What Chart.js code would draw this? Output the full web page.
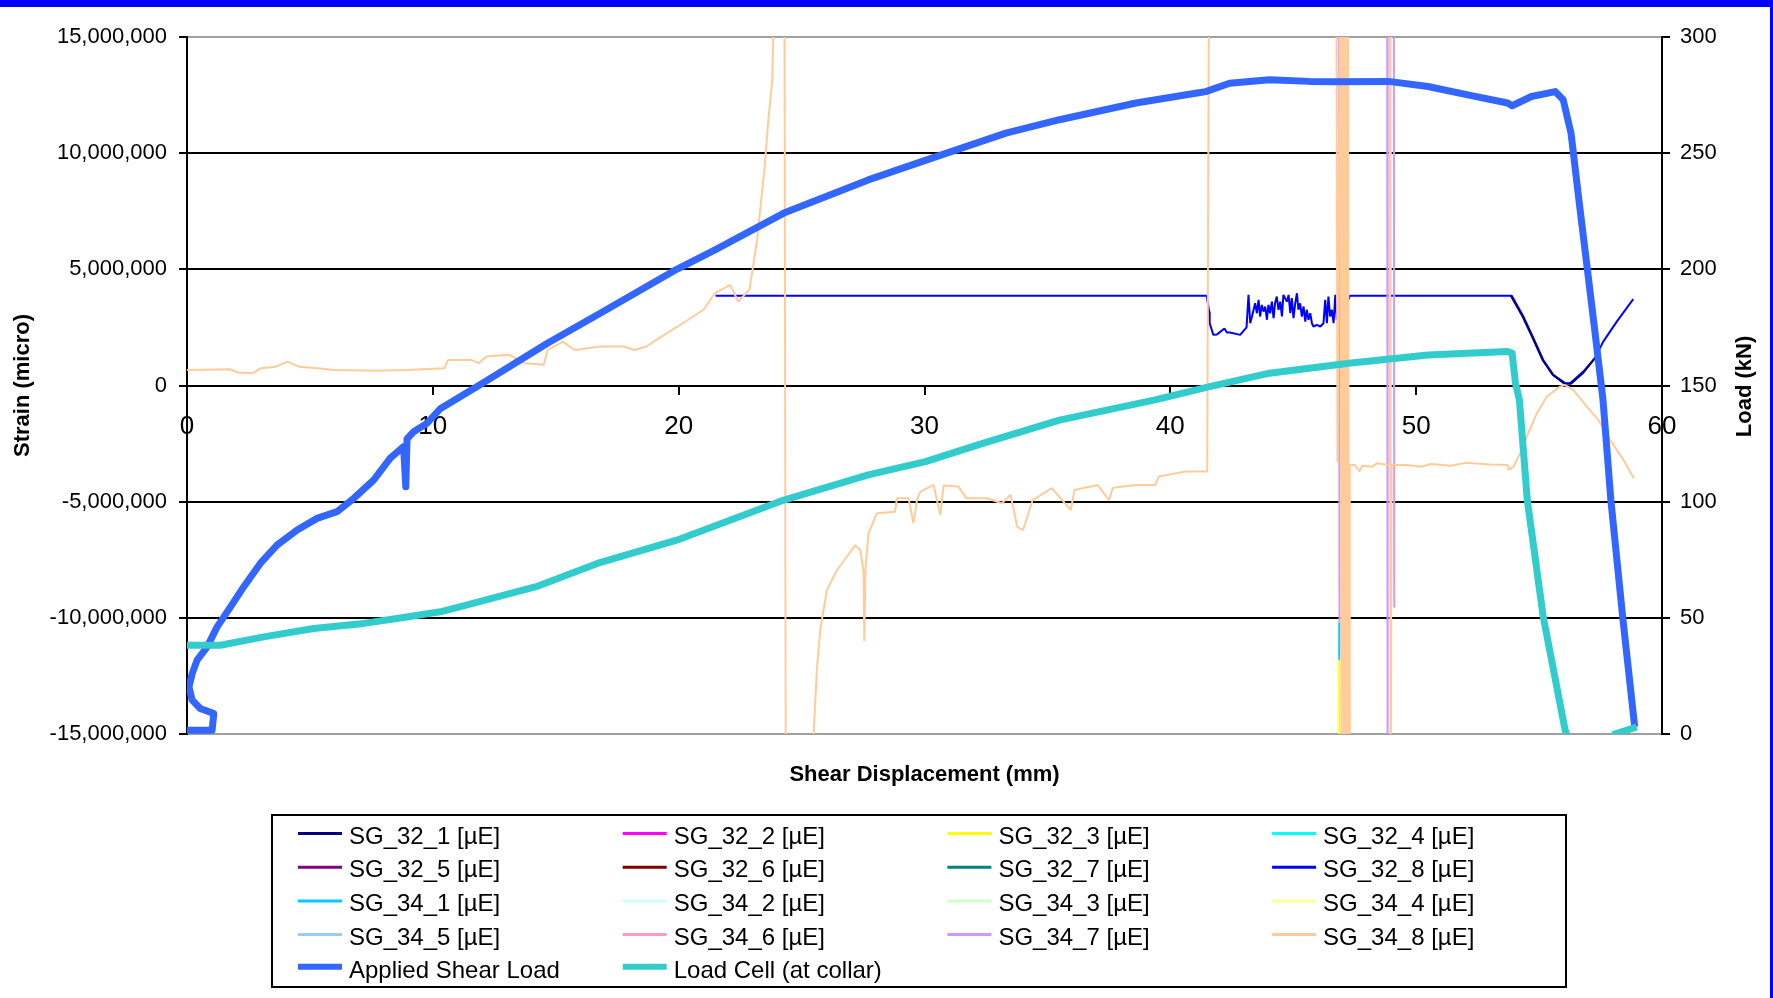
<!DOCTYPE html>
<html>
<head>
<meta charset="utf-8">
<title>Shear Displacement</title>
<script src="https://cdn.jsdelivr.net/npm/chart.js@4.4.1/dist/chart.umd.min.js"></script>
<style>
  body { margin: 0; background: #fff; }
  #wrap { position: relative; width: 1773px; height: 998px; }
  #myChart { display: block; }
  #frameTop { position: absolute; left: 0; top: 0; width: 1773px; height: 7px; background: #0000ff; }
  #frameRight { position: absolute; right: 0; top: 0; width: 3px; height: 998px; background: #0000ff; }
</style>
</head>
<body>
<div id="wrap">
  <canvas id="myChart" width="1773" height="998"></canvas>
  <div id="frameTop"></div>
  <div id="frameRight"></div>
</div>
<script>
// tick labels
const dispTicks = [0, 10, 20, 30, 40, 50, 60]
const strainTicks = [-15e6, -10e6, -5e6, 0, 5e6, 10e6, 15e6]
const loadTicks = [0, 50, 100, 150, 200, 250, 300]

const seriesNames = ['SG_32_1 [µE]', 'SG_32_2 [µE]', 'SG_32_3 [µE]', 'SG_32_4 [µE]',
  'SG_32_5 [µE]', 'SG_32_6 [µE]', 'SG_32_7 [µE]', 'SG_32_8 [µE]',
  'SG_34_1 [µE]', 'SG_34_2 [µE]', 'SG_34_3 [µE]', 'SG_34_4 [µE]',
  'SG_34_5 [µE]', 'SG_34_6 [µE]', 'SG_34_7 [µE]', 'SG_34_8 [µE]',
  'Applied Shear Load', 'Load Cell (at collar)']

// [displacement mm, strain micro]
const sg32_1 = [[53.85, 3.86e6], [54.33, 2.97e6], [54.74, 2.04e6], [55.14, 1.1e6], [55.55, 0.46e6],
  [56.03, 0.08e6], [56.3, 0.08e6], [56.8, 0.55e6], [57.25, 1.15e6]]
const sg32_2 = []
const sg32_3 = [[46.87, -11.8e6], [46.875, -20e6], [46.88, null], [48.96, 20e6], [48.965, -9e6]]
const sg32_4 = []
const sg32_5 = []
const sg32_6 = []
const sg32_7 = []
const sg32_8 = [[21.5, 3.86e6], [41.48, 3.86e6], [41.58, 3.18e6], [41.6, 2.68e6], [41.75, 2.18e6],
  [41.9, 2.2e6], [42.2, 2.45e6], [42.3, 2.28e6], [42.43, 2.28e6], [42.84, 2.18e6], [43.1, 2.5e6],
  [43.18, 3.9e6], [43.25, 2.68e6], [43.32, 2.97e6], [43.45, 3.54e6], [43.52, 3.11e6], [43.59, 3.69e6],
  [43.65, 2.97e6], [43.72, 3.47e6], [43.79, 3.18e6], [43.86, 3.4e6], [43.93, 2.83e6], [43.99, 3.47e6],
  [44.06, 3.11e6], [44.13, 3.61e6], [44.2, 2.9e6], [44.26, 3.54e6], [44.33, 3.83e6], [44.4, 3.26e6],
  [44.47, 3.61e6], [44.54, 2.97e6], [44.6, 3.9e6], [44.74, 3.61e6], [44.81, 3.9e6], [44.88, 3.11e6],
  [44.94, 3.76e6], [45.01, 2.9e6], [45.08, 3.54e6], [45.15, 3.97e6], [45.21, 3.26e6], [45.28, 3.54e6],
  [45.35, 2.97e6], [45.42, 3.4e6], [45.49, 2.75e6], [45.55, 3.26e6], [45.62, 2.83e6], [45.69, 3.11e6],
  [45.76, 2.68e6], [45.82, 2.54e6], [45.96, 2.61e6], [46.1, 2.54e6], [46.23, 2.68e6], [46.3, 3.69e6],
  [46.37, 2.68e6], [46.43, 3.83e6], [46.5, 2.97e6], [46.57, 3.26e6], [46.64, 2.68e6], [46.71, 3.9e6],
  [46.77, 2.83e6], [46.84, 3.83e6], [46.91, 2.68e6], [47.3, 3.86e6], [53.89, 3.86e6],
  [54.36, 2.97e6], [54.77, 2.04e6], [55.17, 1.1e6], [55.58, 0.46e6], [56.06, 0.1e6], [56.26, 0.1e6],
  [56.8, 0.6e6], [57.27, 1.18e6], [57.61, 1.89e6], [58.16, 2.75e6], [58.83, 3.72e6]]
const sg34_1 = [[46.88, -10.2e6], [46.87, -11.8e6]]
const sg34_2 = []
const sg34_3 = []
const sg34_4 = []
const sg34_5 = []
const sg34_6 = []
const sg34_7 = [[46.86, 20e6], [46.88, -10.2e6], [46.9, null], [48.82, 20e6], [48.84, -20e6],
  [48.86, null], [49.09, 20e6], [49.11, -9.56e6]]
const sg34_8 = [[0, 0.67e6], [1.75, 0.7e6], [2.06, 0.56e6], [2.68, 0.53e6], [2.99, 0.74e6], [3.62, 0.81e6],
  [4.08, 1.03e6], [4.55, 0.81e6], [5.33, 0.74e6], [5.95, 0.67e6], [7.66, 0.64e6], [8.91, 0.67e6],
  [10.47, 0.74e6], [10.62, 1.1e6], [11.55, 1.1e6], [11.87, 0.96e6], [12.18, 1.25e6], [13.11, 1.32e6],
  [13.73, 0.96e6], [14.51, 0.89e6], [14.67, 1.53e6], [15.29, 1.89e6], [15.76, 1.53e6], [16.81, 1.68e6],
  [17.75, 1.68e6], [18.21, 1.53e6], [18.68, 1.68e6], [19.3, 2.1e6], [20.39, 2.83e6], [21.01, 3.26e6],
  [21.48, 3.98e6], [22.1, 4.33e6], [22.42, 3.61e6], [22.88, 4.12e6], [23.19, 6.27e6], [23.5, 9.43e6],
  [23.66, 11.58e6], [23.81, 13.16e6], [23.95, 20e6], [24.3, 20e6], [24.36, -20e6], [25.45, -20e6],
  [25.49, -15e6], [25.62, -12.25e6], [25.76, -10.5e6], [26.03, -8.8e6], [26.44, -7.94e6], [26.84, -7.37e6],
  [27.18, -6.87e6], [27.39, -7.08e6], [27.52, -8e6], [27.55, -11e6], [27.6, -7.9e6], [27.72, -6.36e6],
  [28.06, -5.5e6], [28.8, -5.43e6], [28.88, -4.85e6], [29.35, -4.85e6], [29.55, -5.93e6], [29.7, -4.9e6],
  [29.83, -4.57e6], [30.37, -4.28e6], [30.64, -5.57e6], [30.78, -4.3e6], [31.38, -4.35e6], [31.7, -4.85e6],
  [32.54, -4.85e6], [33.15, -5.07e6], [33.5, -4.7e6], [33.77, -6.08e6], [34.01, -6.22e6], [34.4, -4.93e6],
  [35.18, -4.42e6], [35.95, -5.36e6], [36.1, -4.5e6], [37.04, -4.28e6], [37.51, -4.93e6], [37.66, -4.4e6],
  [38.6, -4.28e6], [39.38, -4.28e6], [39.53, -3.92e6], [40.62, -3.7e6], [41.5, -3.7e6], [41.58, 20e6],
  [46.75, 20e6], [46.8, -3.3e6], [46.92, 20e6], [46.97, -20e6], [47.02, 20e6], [47.07, -20e6],
  [47.12, 20e6], [47.17, -20e6], [47.22, 20e6], [47.27, -20e6],
  [47.3, -3.42e6], [47.5, -3.42e6], [47.7, -3.7e6], [47.8, -3.45e6], [48.2, -3.5e6], [48.4, -3.35e6],
  [48.9, -3.42e6], [48.93, 20e6], [48.96, -20e6], [49.0, -3.42e6], [49.6, -3.42e6], [50.2, -3.5e6],
  [50.6, -3.38e6], [51.4, -3.45e6], [52.0, -3.33e6], [53.0, -3.4e6], [53.72, -3.42e6], [53.75, -3.63e6],
  [53.96, -3.49e6], [54.23, -2.92e6], [54.5, -2.2e6], [54.91, -1.19e6], [55.31, -0.48e6], [55.85, -0.05e6],
  [56.06, 0.02e6], [56.39, -0.19e6], [56.94, -0.91e6], [57.41, -1.48e6], [57.89, -2.34e6], [58.43, -3.2e6],
  [58.86, -4.0e6]]

// [displacement mm, load kN]
const appliedShearLoad = [[0, 1.6], [1.02, 1.6], [1.09, 8.8], [0.54, 11], [0.21, 14.6], [0.08, 20.3],
  [0.21, 26], [0.41, 31.8], [0.82, 37.5], [1.22, 46], [1.77, 54.7], [2.31, 63.4], [2.98, 73.4], [3.66, 81.3],
  [4.48, 87.8], [5.29, 92.8], [6.1, 95.7], [6.78, 101.4], [7.59, 109.3], [8.27, 118.7], [8.81, 123.7],
  [8.9, 106.4], [8.95, 127], [9.22, 130.1], [9.76, 133.7], [10.3, 140], [11.87, 150], [13.11, 158.1],
  [14.66, 168.2], [16.81, 181.1], [19.92, 200], [21.48, 208.4], [24.28, 224.2], [27.71, 238.5],
  [30.51, 248.6], [33.31, 258.6], [35.49, 264.4], [38.6, 271.6], [41.09, 275.9], [41.44, 276.5],
  [42.41, 280.1], [44.03, 281.6], [45.65, 280.9], [46.8, 280.7], [48.87, 280.9], [50.48, 278.7],
  [52.1, 275.1], [53.72, 271.6], [53.9, 270.4], [54.69, 274.4], [55.66, 276.5], [55.98, 273],
  [56.3, 258.6], [56.62, 229.9], [56.95, 201.2], [57.28, 172.5], [57.6, 143.8], [57.92, 100.7],
  [58.4, 50.4], [58.89, 3.1]]
const loadCell = [[0, 38.2], [1.36, 38.2], [3.12, 41.8], [5.15, 45.4], [7.19, 47.6], [8.54, 49.7],
  [10.3, 52.6], [11.09, 54.7], [14.2, 63.4], [16.69, 73.4], [19.92, 83.4], [24.28, 100.7], [27.71, 111.5],
  [30.04, 117.2], [32.37, 125.1], [35.49, 135.1], [39.38, 143.8], [41.6, 149.5], [44.03, 155.3],
  [47.26, 159.6], [50.48, 163.1], [53.72, 164.6], [53.9, 164], [54.04, 151], [54.2, 143.8], [54.52, 100.7],
  [55.17, 50.4], [56.06, 1.6], [56.4, -8], [57.8, -8], [58.07, 0], [58.97, 3]]

const seriesData = [sg32_1, sg32_2, sg32_3, sg32_4, sg32_5, sg32_6, sg32_7, sg32_8,
  sg34_1, sg34_2, sg34_3, sg34_4, sg34_5, sg34_6, sg34_7, sg34_8, appliedShearLoad, loadCell]

const seriesColors = ['#000080', '#ff00ff', '#ffff00', '#00ffff', '#800080', '#800000', '#008080', '#0000ff',
  '#00ccff', '#ccffff', '#ccffcc', '#ffff99', '#99ccff', '#ff99cc', '#cc99ff', '#ffcc99', '#3366ff', '#33cccc']

const FONT = '"Liberation Sans", Arial, sans-serif'

// Excel-style boxed legend, 4 columns
const boxLegend = {
  id: 'boxLegend',
  afterDraw(chart) {
    const ctx = chart.ctx
    ctx.save()
    ctx.strokeStyle = '#000'
    ctx.lineWidth = 2
    ctx.strokeRect(272, 815, 1294, 172)
    ctx.font = '24px ' + FONT
    ctx.textBaseline = 'middle'
    ctx.textAlign = 'left'
    chart.data.datasets.forEach(function(ds, i) {
      const x = 298 + (i % 4) * 324.7
      const y = 837 + Math.floor(i / 4) * 33.7
      const thick = ds.borderWidth > 3
      ctx.strokeStyle = ds.borderColor
      ctx.lineWidth = thick ? 6 : 3
      ctx.beginPath()
      ctx.moveTo(x, y - (thick ? 5 : 3.5))
      ctx.lineTo(x + 44, y - (thick ? 5 : 3.5))
      ctx.stroke()
      ctx.fillStyle = '#000'
      ctx.fillText(ds.label, x + 51, y)
    })
    ctx.restore()
  }
}

// secondary axis title reads bottom-to-top like the left one
const rightTitle = {
  id: 'rightTitle',
  afterDraw(chart) {
    const ctx = chart.ctx
    const area = chart.chartArea
    ctx.save()
    ctx.translate(area.right + 83, (area.top + area.bottom) / 2 + 1)
    ctx.rotate(-Math.PI / 2)
    ctx.font = 'bold 22px ' + FONT
    ctx.fillStyle = '#000'
    ctx.textAlign = 'center'
    ctx.textBaseline = 'middle'
    ctx.fillText('Load (kN)', 0, 0)
    ctx.restore()
  }
}

function handleOnLoad() {
  CreateChart()
}

function CreateChart() {
  Chart.defaults.font.family = FONT
  Chart.defaults.color = '#000'

  const datasets = seriesData.map(function(points, i) {
    const isLoad = i >= 16
    let order = 100 - i
    if (i === 0) order = 90
    if (isLoad) order = 17 - i
    return {
      label: seriesNames[i],
      data: points.map(p => ({ x: p[0], y: p[1] })),
      yAxisID: isLoad ? 'y1' : 'y',
      borderColor: seriesColors[i],
      backgroundColor: seriesColors[i],
      borderWidth: isLoad ? 7 : 2,
      borderJoinStyle: isLoad ? 'round' : 'bevel',
      pointRadius: 0,
      pointHitRadius: 0,
      tension: 0,
      fill: false,
      order: order
    }
  })

  const ctx = document.getElementById('myChart').getContext('2d')
  const myChart = new Chart(ctx, {
    type: 'line',
    data: { datasets: datasets },
    options: {
      responsive: false,
      animation: false,
      devicePixelRatio: 1,
      layout: { padding: { top: 37, left: 0, right: 0, bottom: 198 } },
      plugins: {
        legend: { display: false },
        tooltip: { enabled: false }
      },
      scales: {
        x: {
          type: 'linear',
          position: { y: 0 },
          min: 0,
          max: 60,
          afterBuildTicks: axis => { axis.ticks = dispTicks.map(v => ({ value: v })) },
          ticks: { font: { size: 26 }, padding: 18, maxRotation: 0, autoSkip: false },
          grid: { drawOnChartArea: false, tickLength: 8, color: '#000', lineWidth: 2 },
          border: { color: '#000', width: 2 }
        },
        xTitle: {
          type: 'linear',
          position: 'bottom',
          min: 0,
          max: 60,
          afterFit: scale => { scale.height = 66 },
          ticks: { display: false },
          grid: { display: false, drawTicks: false },
          border: { display: false },
          title: {
            display: true,
            text: 'Shear Displacement (mm)',
            font: { size: 22, weight: 'bold' },
            padding: { top: 0, bottom: 12 }
          }
        },
        y: {
          type: 'linear',
          position: 'left',
          min: -15e6,
          max: 15e6,
          afterBuildTicks: axis => { axis.ticks = strainTicks.map(v => ({ value: v })) },
          afterFit: scale => { scale.width = 187 },
          ticks: { font: { size: 22 }, padding: 12, callback: v => v.toLocaleString('en-US') },
          grid: {
            color: c => (c.tick && Math.abs(c.tick.value) === 15e6) ? '#a0a0a0' : '#000',
            tickColor: '#000',
            lineWidth: 2,
            tickLength: 8
          },
          border: { color: '#000', width: 2 },
          title: {
            display: true,
            text: 'Strain (micro)',
            font: { size: 22, weight: 'bold' },
            padding: { top: 10, bottom: 0 }
          }
        },
        y1: {
          type: 'linear',
          position: 'right',
          min: 0,
          max: 300,
          afterBuildTicks: axis => { axis.ticks = loadTicks.map(v => ({ value: v })) },
          afterFit: scale => { scale.width = 111 },
          ticks: { font: { size: 22 }, padding: 10 },
          grid: { drawOnChartArea: false, tickLength: 8, color: '#000', lineWidth: 2 },
          border: { color: '#000', width: 2 }
        }
      }
    },
    plugins: [boxLegend, rightTitle]
  })
  return myChart
}

handleOnLoad()
</script>
</body>
</html>
